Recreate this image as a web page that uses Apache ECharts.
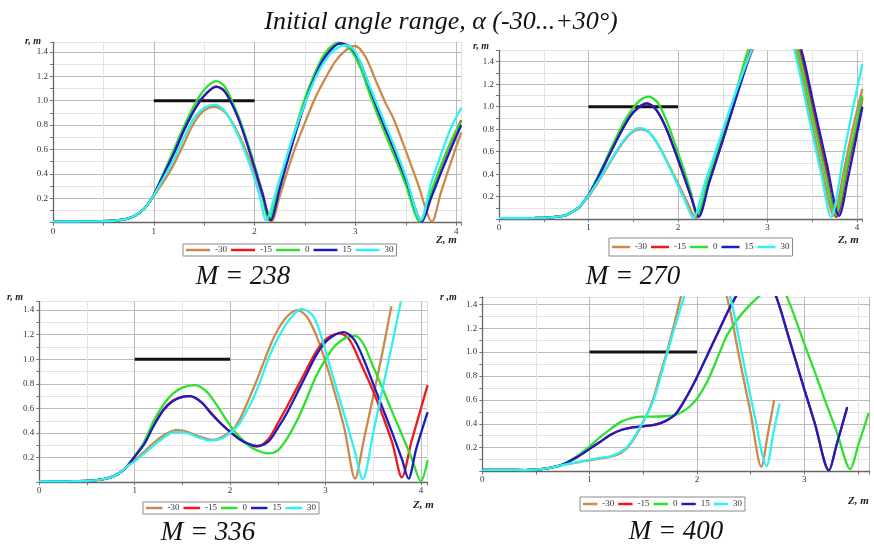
<!DOCTYPE html>
<html><head><meta charset="utf-8">
<script src="https://cdn.jsdelivr.net/npm/echarts/dist/echarts.min.js"></script>
<style>html,body{margin:0;padding:0;background:#fff}#c{width:874px;height:547px}</style>
</head><body><div id="c"></div><script>
// ---- data ----
const angleNames = ['-30', '-15', '0', '15', '30'];
const colors = ['#cc8a4a', '#f01818', '#30e030', '#1c1cc0', '#30f0f0'];
const panelLabels = ['M = 238', 'M = 270', 'M = 336', 'M = 400'];
const xTickLabels = ['0', '1', '2', '3', '4'];
const yTickLabels = ['0.2', '0.4', '0.6', '0.8', '1.0', '1.2', '1.4'];
const targetLine = [[1, 1], [2, 1]];

// M = 238
const start238 = [[0,0.01],[0.2,0.01],[0.4,0.011],[0.55,0.014],[0.65,0.02],[0.75,0.036],[0.83,0.065],[0.9,0.11],[0.95,0.16]];
const m238_n30 = [[1.0,0.22],[1.1,0.34],[1.2,0.48],[1.3,0.65],[1.4,0.82],[1.5,0.92],[1.6,0.95],[1.7,0.91],[1.78,0.82],[1.85,0.71],[1.92,0.58],[2.0,0.40],[2.08,0.21],[2.17,0.01],[2.25,0.22],[2.38,0.56],[2.5,0.82],[2.6,1.02],[2.7,1.18],[2.8,1.32],[2.9,1.41],[3.0,1.448],[3.1,1.36],[3.2,1.17],[3.3,0.98],[3.38,0.85],[3.5,0.59],[3.62,0.32],[3.76,0.01],[3.85,0.25],[3.95,0.50],[4.05,0.74]];
const m238_n15 = [[1.0,0.227],[1.1,0.40],[1.2,0.57],[1.3,0.76],[1.4,0.92],[1.5,1.04],[1.62,1.115],[1.7,1.08],[1.78,0.97],[1.85,0.84],[1.92,0.67],[2.0,0.46],[2.08,0.24],[2.15,0.02],[2.25,0.30],[2.38,0.67],[2.5,0.99],[2.6,1.20],[2.7,1.36],[2.83,1.47],[2.95,1.43],[3.05,1.29],[3.14,1.10],[3.25,0.86],[3.38,0.60],[3.5,0.35],[3.65,0.01],[3.75,0.24],[3.85,0.46],[3.95,0.66],[4.05,0.84]];
const m238_0 = [[1.0,0.227],[1.1,0.41],[1.2,0.60],[1.3,0.79],[1.4,0.96],[1.5,1.09],[1.62,1.16],[1.7,1.12],[1.78,0.99],[1.85,0.85],[1.92,0.68],[2.0,0.47],[2.07,0.26],[2.14,0.02],[2.25,0.33],[2.38,0.70],[2.5,1.02],[2.6,1.23],[2.7,1.39],[2.83,1.475],[2.95,1.42],[3.05,1.27],[3.14,1.06],[3.25,0.82],[3.38,0.56],[3.5,0.31],[3.64,0.01],[3.75,0.25],[3.85,0.47],[3.95,0.67],[4.05,0.83]];
const m238_p15 = [[1.0,0.227],[1.1,0.40],[1.2,0.57],[1.3,0.76],[1.4,0.92],[1.5,1.04],[1.62,1.115],[1.7,1.08],[1.78,0.965],[1.85,0.83],[1.92,0.66],[2.0,0.45],[2.08,0.23],[2.16,0.02],[2.25,0.28],[2.38,0.66],[2.5,0.98],[2.6,1.20],[2.7,1.36],[2.85,1.47],[2.95,1.44],[3.05,1.31],[3.14,1.11],[3.25,0.87],[3.38,0.61],[3.5,0.36],[3.66,0.01],[3.75,0.20],[3.85,0.41],[3.95,0.61],[4.05,0.80]];
const m238_p30 = [[1.0,0.225],[1.1,0.37],[1.2,0.52],[1.3,0.70],[1.4,0.86],[1.5,0.94],[1.6,0.965],[1.7,0.92],[1.78,0.81],[1.85,0.69],[1.92,0.55],[2.0,0.36],[2.06,0.19],[2.11,0.02],[2.25,0.36],[2.38,0.70],[2.5,0.98],[2.6,1.18],[2.7,1.33],[2.8,1.42],[2.9,1.455],[3.0,1.40],[3.14,1.12],[3.25,0.90],[3.38,0.64],[3.5,0.38],[3.65,0.02],[3.75,0.32],[3.85,0.56],[3.95,0.78],[4.05,0.94]];

// M = 270
const start270 = [[0,0.01],[0.2,0.01],[0.4,0.011],[0.55,0.014],[0.65,0.022],[0.75,0.037],[0.83,0.07],[0.9,0.11],[0.95,0.16]];
const m270_n30 = [[1.0,0.20],[1.1,0.32],[1.2,0.45],[1.3,0.58],[1.4,0.70],[1.5,0.78],[1.58,0.80],[1.68,0.77],[1.78,0.66],[1.88,0.51],[1.98,0.35],[2.08,0.19],[2.2,0.01],[2.35,0.37],[2.5,0.73],[2.65,1.10],[2.83,1.5],[2.95,1.72],[3.07,1.80],[3.2,1.70],[3.32,1.5],[3.47,0.95],[3.62,0.40],[3.74,0.03],[3.85,0.42],[3.95,0.80],[4.06,1.16]];
const m270_n15 = [[1.0,0.215],[1.1,0.36],[1.2,0.52],[1.3,0.68],[1.4,0.83],[1.5,0.95],[1.65,1.03],[1.75,0.98],[1.85,0.84],[1.95,0.64],[2.05,0.42],[2.15,0.19],[2.22,0.02],[2.35,0.34],[2.5,0.71],[2.65,1.09],[2.81,1.5],[2.95,1.78],[3.08,1.87],[3.22,1.76],[3.36,1.5],[3.5,0.99],[3.65,0.45],[3.77,0.02],[3.9,0.48],[4.0,0.84],[4.06,1.08]];
const m270_0 = [[1.0,0.215],[1.1,0.37],[1.2,0.54],[1.3,0.71],[1.4,0.87],[1.5,0.99],[1.58,1.06],[1.67,1.09],[1.77,1.04],[1.87,0.88],[1.97,0.66],[2.07,0.43],[2.15,0.22],[2.21,0.03],[2.35,0.40],[2.5,0.77],[2.65,1.14],[2.78,1.5],[2.92,1.78],[3.05,1.88],[3.2,1.76],[3.34,1.5],[3.5,0.93],[3.65,0.39],[3.76,0.04],[3.9,0.52],[4.0,0.88],[4.06,1.10]];
const m270_p15 = [[1.0,0.215],[1.1,0.36],[1.2,0.52],[1.3,0.68],[1.4,0.83],[1.5,0.95],[1.65,1.03],[1.75,0.98],[1.85,0.84],[1.95,0.64],[2.05,0.42],[2.15,0.19],[2.23,0.02],[2.35,0.33],[2.5,0.70],[2.65,1.08],[2.82,1.5],[2.96,1.78],[3.1,1.88],[3.25,1.77],[3.38,1.5],[3.52,1.0],[3.66,0.50],[3.8,0.03],[3.9,0.37],[4.0,0.76],[4.06,1.0]];
const m270_p30 = [[1.0,0.21],[1.1,0.33],[1.2,0.46],[1.3,0.59],[1.4,0.71],[1.5,0.79],[1.57,0.81],[1.67,0.78],[1.77,0.67],[1.87,0.52],[1.97,0.35],[2.07,0.18],[2.17,0.01],[2.3,0.32],[2.5,0.79],[2.65,1.14],[2.82,1.5],[2.95,1.74],[3.05,1.80],[3.18,1.72],[3.30,1.5],[3.45,0.95],[3.6,0.40],[3.71,0.02],[3.85,0.57],[3.95,0.97],[4.06,1.38]];

// M = 336
const start336 = [[0,0.01],[0.2,0.008],[0.4,0.01],[0.5,0.012],[0.6,0.018],[0.7,0.03],[0.78,0.05],[0.85,0.08],[0.92,0.13]];
const m336_n30 = [[1.0,0.18],[1.1,0.25],[1.2,0.32],[1.3,0.38],[1.44,0.425],[1.55,0.41],[1.65,0.38],[1.75,0.355],[1.82,0.345],[1.92,0.37],[2.03,0.43],[2.1,0.51],[2.21,0.70],[2.3,0.87],[2.42,1.11],[2.5,1.24],[2.6,1.35],[2.7,1.40],[2.8,1.35],[2.9,1.20],[3.0,0.98],[3.1,0.72],[3.2,0.43],[3.31,0.03],[3.4,0.34],[3.5,0.70],[3.6,1.07],[3.69,1.43]];
const m336_n15 = [[1.0,0.21],[1.1,0.32],[1.2,0.47],[1.3,0.59],[1.4,0.665],[1.5,0.695],[1.58,0.70],[1.7,0.65],[1.8,0.565],[1.9,0.48],[2.0,0.41],[2.1,0.35],[2.2,0.305],[2.28,0.29],[2.4,0.35],[2.5,0.48],[2.6,0.62],[2.77,0.87],[2.9,1.06],[3.0,1.16],[3.15,1.21],[3.25,1.16],[3.35,1.00],[3.5,0.74],[3.6,0.54],[3.7,0.32],[3.8,0.04],[3.9,0.33],[4.0,0.60],[4.07,0.79]];
const m336_0 = [[1.0,0.21],[1.1,0.33],[1.2,0.50],[1.3,0.63],[1.4,0.72],[1.5,0.77],[1.63,0.79],[1.75,0.74],[1.85,0.64],[1.95,0.52],[2.03,0.43],[2.15,0.33],[2.25,0.27],[2.4,0.235],[2.5,0.26],[2.6,0.36],[2.7,0.50],[2.77,0.62],[2.9,0.86],[3.0,1.0],[3.1,1.11],[3.2,1.17],[3.31,1.19],[3.4,1.12],[3.5,0.94],[3.6,0.76],[3.7,0.57],[3.8,0.39],[3.9,0.20],[4.0,0.01],[4.07,0.18]];
const m336_p15 = [[1.0,0.21],[1.1,0.31],[1.2,0.46],[1.3,0.585],[1.4,0.66],[1.5,0.695],[1.58,0.70],[1.7,0.65],[1.8,0.56],[1.9,0.48],[2.0,0.41],[2.1,0.35],[2.2,0.31],[2.28,0.295],[2.4,0.33],[2.5,0.44],[2.6,0.57],[2.77,0.83],[2.9,1.03],[3.0,1.14],[3.1,1.20],[3.19,1.22],[3.3,1.16],[3.4,1.0],[3.5,0.80],[3.6,0.60],[3.7,0.40],[3.8,0.19],[3.87,0.03],[3.95,0.27],[4.07,0.57]];
const m336_p30 = [[1.0,0.17],[1.1,0.235],[1.2,0.30],[1.3,0.36],[1.42,0.41],[1.55,0.40],[1.65,0.37],[1.75,0.345],[1.82,0.34],[1.92,0.36],[2.03,0.42],[2.1,0.48],[2.21,0.63],[2.3,0.79],[2.42,1.04],[2.5,1.17],[2.6,1.30],[2.75,1.41],[2.85,1.37],[2.92,1.27],[3.0,1.07],[3.1,0.80],[3.2,0.54],[3.3,0.27],[3.39,0.025],[3.5,0.40],[3.6,0.77],[3.7,1.13],[3.79,1.47]];

// M = 400
const start400 = [[0,0.015],[0.2,0.015],[0.4,0.013],[0.55,0.02],[0.65,0.035],[0.72,0.05]];
const m400_n30 = [[0.8,0.065],[0.9,0.08],[1.0,0.095],[1.1,0.11],[1.2,0.125],[1.3,0.16],[1.38,0.23],[1.45,0.33],[1.5,0.42],[1.55,0.51],[1.6,0.63],[1.65,0.79],[1.72,1.0],[1.79,1.24],[1.85,1.46],[1.95,1.76],[2.05,1.88],[2.15,1.78],[2.28,1.46],[2.4,0.93],[2.5,0.49],[2.6,0.04],[2.66,0.31],[2.72,0.60]];
const m400_n15 = [[0.8,0.08],[0.9,0.13],[1.0,0.19],[1.1,0.25],[1.2,0.31],[1.3,0.35],[1.4,0.37],[1.5,0.38],[1.6,0.39],[1.7,0.42],[1.8,0.48],[1.9,0.62],[2.0,0.79],[2.1,0.98],[2.2,1.17],[2.3,1.36],[2.4,1.52],[2.5,1.62],[2.58,1.64],[2.66,1.58],[2.74,1.46],[2.85,1.14],[3.0,0.69],[3.1,0.40],[3.23,0.01],[3.3,0.22],[3.4,0.53]];
const m400_0 = [[0.8,0.085],[0.9,0.14],[1.0,0.21],[1.1,0.29],[1.2,0.36],[1.3,0.42],[1.4,0.45],[1.5,0.46],[1.6,0.46],[1.7,0.463],[1.8,0.475],[1.9,0.52],[2.0,0.61],[2.1,0.76],[2.2,0.97],[2.28,1.14],[2.4,1.30],[2.5,1.40],[2.57,1.46],[2.65,1.52],[2.72,1.54],[2.78,1.52],[2.84,1.46],[3.0,1.07],[3.1,0.83],[3.2,0.58],[3.3,0.34],[3.43,0.02],[3.5,0.21],[3.6,0.49]];
const m400_p15 = [[0.8,0.08],[0.9,0.13],[1.0,0.19],[1.1,0.25],[1.2,0.31],[1.3,0.35],[1.4,0.37],[1.5,0.38],[1.6,0.39],[1.7,0.42],[1.8,0.48],[1.9,0.62],[2.0,0.79],[2.1,0.98],[2.2,1.17],[2.3,1.36],[2.4,1.52],[2.5,1.62],[2.58,1.64],[2.66,1.58],[2.74,1.46],[2.85,1.14],[3.0,0.69],[3.1,0.40],[3.23,0.01],[3.3,0.22],[3.4,0.54]];
const m400_p30 = [[0.8,0.065],[0.9,0.08],[1.0,0.10],[1.1,0.115],[1.2,0.13],[1.3,0.17],[1.38,0.24],[1.45,0.34],[1.5,0.42],[1.55,0.50],[1.6,0.61],[1.65,0.76],[1.72,0.98],[1.79,1.2],[1.88,1.46],[1.98,1.74],[2.08,1.85],[2.18,1.76],[2.31,1.46],[2.42,0.98],[2.53,0.50],[2.65,0.047],[2.71,0.31],[2.77,0.57]];

const panels = [
  { start: start238, series: [m238_n30, m238_n15, m238_0, m238_p15, m238_p30] },
  { start: start270, series: [m270_n30, m270_n15, m270_0, m270_p15, m270_p30] },
  { start: start336, series: [m336_n30, m336_n15, m336_0, m336_p15, m336_p30] },
  { start: start400, series: [m400_n30, m400_n15, m400_0, m400_p15, m400_p30] }
];

// ---- layout (pixels) ----
const layout = [
  { left: 53,    top: 42.1,  width: 408.2, height: 180.6, xMax: 4.05, yMax: 1.48,
    legend: { left: 183, top: 244, iw: 24, pad: [1, 3] }, label: [243, 277],
    rm: ['r, m', 25, 41], zm: [436, 240] },
  { left: 499,   top: 50.5,  width: 363.4, height: 168.7, xMax: 4.06, yMax: 1.5,
    legend: { left: 609, top: 238, iw: 18, pad: [4, 3] }, label: [633, 277],
    rm: ['r, m', 473, 46], zm: [838, 240] },
  { left: 39.3,  top: 301.7, width: 388.3, height: 180.6, xMax: 4.07, yMax: 1.468,
    legend: { left: 143, top: 502, iw: 16.5, pad: [1, 3] }, label: [208, 533],
    rm: ['r, m', 7, 297], zm: [413, 505] },
  { left: 482.3, top: 297.1, width: 387.4, height: 174.5, xMax: 3.61, yMax: 1.46,
    legend: { left: 580, top: 497, iw: 14.3, pad: [2, 3] }, label: [676, 532],
    rm: ['r ,m', 440, 297], zm: [848, 501] }
];

const serif = 'Liberation Serif';
const grids = [], xAxes = [], yAxes = [], series = [], legends = [], graphics = [];

layout.forEach((L, i) => {
  grids.push({ left: L.left, top: L.top, width: L.width, height: L.height, containLabel: false });
  xAxes.push({
    type: 'value', gridIndex: i, min: 0, max: L.xMax, interval: 0.5,
    axisLine: { show: true, onZero: false, lineStyle: { color: '#666', width: 1.3 } },
    axisTick: { show: true, length: 3, lineStyle: { color: '#777' } },
    axisLabel: { fontSize: 9, fontFamily: serif, color: '#333', margin: 4,
      formatter: v => { const k = Math.round(v); return (Math.abs(v - k) < 1e-6 && xTickLabels[k] !== undefined) ? xTickLabels[k] : ''; } },
    splitLine: { show: true, lineStyle: { color: ['#bababa', '#e2e2e2'], width: 1 } }
  });
  yAxes.push({
    type: 'value', gridIndex: i, min: 0, max: L.yMax, interval: 0.1,
    axisLine: { show: true, onZero: false, lineStyle: { color: '#666', width: 1.3 } },
    axisTick: { show: true, length: 3, lineStyle: { color: '#777' } },
    axisLabel: { fontSize: 9, fontFamily: serif, color: '#333', margin: 5,
      formatter: v => { const k = Math.round(v * 10); if (Math.abs(v * 10 - k) > 1e-6 || k === 0 || k % 2) return ''; return yTickLabels[k / 2 - 1] || ''; } },
    splitLine: { show: true, lineStyle: { color: ['#bababa', '#e2e2e2'], width: 1 } }
  });
  panels[i].series.forEach((d, j) => {
    series.push({
      type: 'line', name: angleNames[j], xAxisIndex: i, yAxisIndex: i,
      data: panels[i].start.concat(d), smooth: 0.3, symbol: 'none', clip: true,
      lineStyle: { color: colors[j], width: 2.3 }, itemStyle: { color: colors[j] },
      z: 3 + j
    });
  });
  series.push({
    type: 'line', name: 'target', xAxisIndex: i, yAxisIndex: i, data: targetLine,
    symbol: 'none', lineStyle: { color: '#111', width: 3 }, z: 2
  });
  legends.push({
    data: angleNames, left: L.legend.left, top: L.legend.top, orient: 'horizontal',
    icon: 'rect', itemWidth: L.legend.iw, itemHeight: 2.5, itemGap: 4,
    padding: L.legend.pad, borderColor: '#888', borderWidth: 1, backgroundColor: '#fff',
    textStyle: { fontSize: 9, fontFamily: serif, color: '#333', lineHeight: 10 },
    selectedMode: false
  });
  graphics.push({ type: 'text', x: L.label[0], y: L.label[1],
    style: { text: panelLabels[i], font: 'italic 27px "Liberation Serif"', fill: '#111', textAlign: 'center', textVerticalAlign: 'middle' } });
  graphics.push({ type: 'text', x: L.rm[1], y: L.rm[2],
    style: { text: L.rm[0], font: 'italic bold 10px "Liberation Serif"', fill: '#222', textAlign: 'left', textVerticalAlign: 'middle' } });
  graphics.push({ type: 'text', x: L.zm[0], y: L.zm[1],
    style: { text: 'Z, m', font: 'italic bold 11px "Liberation Serif"', fill: '#222', textAlign: 'left', textVerticalAlign: 'middle' } });
});

graphics.push({ type: 'text', x: 441, y: 22,
  style: { text: 'Initial angle range, α (-30...+30°)', font: 'italic 26px "Liberation Serif"', fill: '#111', textAlign: 'center', textVerticalAlign: 'middle' } });

const chart = echarts.init(document.getElementById('c'), null, { renderer: 'canvas' });
chart.setOption({
  animation: false,
  backgroundColor: '#fff',
  grid: grids, xAxis: xAxes, yAxis: yAxes, series: series, legend: legends, graphic: graphics
});
</script></body></html>
